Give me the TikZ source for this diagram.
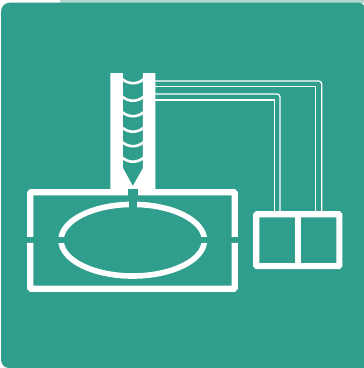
\documentclass[tikz,border=0pt]{standalone}
\definecolor{bgteal}{HTML}{309E8D}
\definecolor{pale}{HTML}{B2D6CF}
\tikzset{
  wire/.style={draw=white,line width=1.25pt},
  wireround/.style={wire,rounded corners=3pt},
  coil/.style={draw=white,line width=2.6pt},
  frame/.style={draw=white,line width=6.2pt,rounded corners=1pt,line cap=butt},
  unit/.style={draw=white,line width=6.2pt,rounded corners=1pt},
}
\begin{document}
\begin{tikzpicture}[x=1pt,y=-1pt]
\useasboundingbox (0,0) rectangle (364,368);
\fill[white] (0,0) rectangle (364,368);
\fill[pale] (60,0) rectangle (364,3);
\fill[bgteal] (1,12) .. controls (1,6) and (5,2.5) .. (11,2.5) -- (358,2.5) .. controls (361,2.5) and (364,4) .. (364,6) -- (364,368) -- (9,368) .. controls (4,368) and (1,364) .. (1,359) -- cycle;
% wires
\coordinate (w1) at (155,81);
\coordinate (w2) at (155,86.7);
\coordinate (w3) at (155,94);
\coordinate (w4) at (155,100);
\coordinate (u1) at (321.7,213);
\coordinate (u2) at (315.7,213);
\coordinate (u3) at (280,213);
\coordinate (u4) at (274.3,213);
\draw[wireround] (w1) -| (u1);
\draw[wire] (w2) -| (u2);
\draw[wireround] (w3) -| (u3);
\draw[wire] (w4) -| (u4);
% control unit
\draw[unit] (256.2,214.2) rectangle (339.4,266.1);
\draw[white,line width=6pt] (298,214.2) -- (298,266.1);
% tube
\fill[white] (110.3,73) -- (123,73) -- (123,168) -- (132.8,186) -- (143,168) -- (143,73) -- (155.3,73) -- (155.3,192) -- (110.3,192) -- cycle;
% coil
\foreach \y in {79,96.5,112,127.5,142,157.5}{
  \draw[coil] (122,\y) .. controls (129,\y+5.6) and (137,\y+5.6) .. (144,\y);
}
% chamber
\draw[frame] (30.2,236.8) -- (30.2,192.2) -- (234.8,192.2) -- (234.8,236.8);
\draw[frame] (30.2,242.8) -- (30.2,288.8) -- (234.8,288.8) -- (234.8,242.8);
% ring
\draw[white,line width=5.6pt] (132.7,240.2) ellipse[x radius=71.7,y radius=35.8];
\fill[bgteal] (50,236.8) rectangle (216,242.8);
\fill[bgteal] (129,198) rectangle (136.7,208);
% stub
\fill[bgteal] (127.7,189) rectangle (138.5,196);
\end{tikzpicture}
\end{document}
